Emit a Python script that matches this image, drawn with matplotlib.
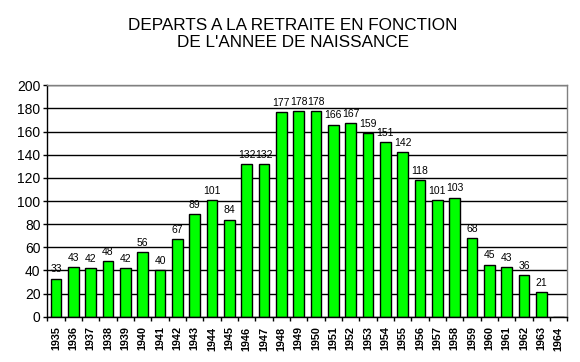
import numpy as np
import matplotlib.pyplot as plt

# données
annees = [str(a) for a in range(1935, 1965)]
departs = [33, 43, 42, 48, 42, 56, 40, 67, 89, 101, 84, 132, 132, 177, 178, 178,
           166, 167, 159, 151, 142, 118, 101, 103, 68, 45, 43, 36, 21, None]
titre = "DEPARTS A LA RETRAITE EN FONCTION\nDE L'ANNEE DE NAISSANCE"
y_ticks = list(range(0, 201, 20))

plt.rcParams['font.family'] = ['Liberation Sans', 'DejaVu Sans']

fig = plt.figure(figsize=(5.8, 3.62), dpi=100)
ax = fig.add_axes([0.0816, 0.1251, 0.8966, 0.6393])

x = np.arange(len(annees))
h = np.array([np.nan if v is None else v for v in departs], dtype=float)

ax.set_axisbelow(True)
ax.yaxis.grid(True, color='black', linewidth=1)
bars = ax.bar(x, np.nan_to_num(h), width=0.62, color='#00ff00', edgecolor='black', linewidth=1)

for xi, v in zip(x, departs):
    if v is not None:
        ax.annotate(str(v), (xi, v), xytext=(0, 3), textcoords='offset points',
                    ha='center', va='bottom', fontsize=7.5)

ax.set_xlim(-0.5, len(annees) - 0.5)
ax.set_ylim(0, 200)
ax.set_yticks(y_ticks)
ax.set_yticklabels([str(t) for t in y_ticks], fontsize=10)
ax.tick_params(axis='y', direction='out', length=3, width=1, color='black', pad=2)

ax.set_xticks(x)
ax.set_xticklabels(annees, rotation=90, fontsize=7.8, fontweight='bold')
ax.tick_params(axis='x', which='major', length=0, pad=7)
ax.set_xticks(np.arange(-0.5, len(annees)), minor=True)
ax.tick_params(axis='x', which='minor', direction='out', length=3, width=1, color='black')

for s in ['left', 'bottom']:
    ax.spines[s].set_color('black')
    ax.spines[s].set_linewidth(1)
for s in ['top', 'right']:
    ax.spines[s].set_color('#808080')
    ax.spines[s].set_linewidth(1)

fig.text(0.505, 0.905, titre, ha='center', va='center', fontsize=12.3, linespacing=1.15)

fig.savefig('out.png', dpi=100)
